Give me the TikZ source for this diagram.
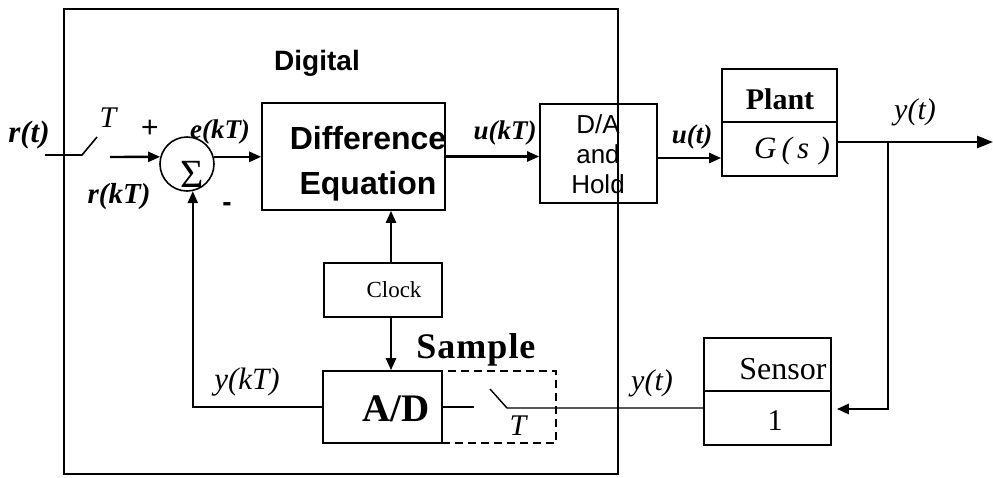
\documentclass[tikz,border=0pt]{standalone}
\usepackage{fontspec}
\setmainfont{Liberation Serif}
\newfontfamily\arial{Liberation Sans}
\usetikzlibrary{arrows.meta,calc}
\begin{document}
\begin{tikzpicture}[x=1pt,y=-1pt,
  blk/.style={draw,line width=1.6pt,inner sep=0pt},
  arr/.style={line width=2.4pt,-{Triangle[length=12pt,width=10pt]}},
  wire/.style={line width=1.6pt},
  lab/.style={inner sep=0pt,font=\fontsize{30}{33}\selectfont\itshape},
  blab/.style={inner sep=0pt,font=\fontsize{27}{30}\selectfont\bfseries\itshape}]
\fill[white] (0,0) rectangle (993,477);
\useasboundingbox (0,0) rectangle (993,477);

% Digital enclosure
\node[draw,line width=1.5pt,inner sep=0pt,minimum width=554pt,minimum height=465pt] (dig) at (341,241.5) {};
\node[inner sep=0pt,font=\arial\bfseries\fontsize{28}{30}\selectfont] (digt) at (317,63) {Digital};

% blocks
\node[blk,circle,minimum size=54pt] (sig) at (187,164) {};
\node[inner sep=0pt,font=\fontsize{40}{42}\selectfont] (sigt) at (192,174) {Σ};
\node[blk,minimum width=183pt,minimum height=107pt] (de) at (353.5,156.5) {};
\node[inner sep=0pt,align=center,font=\arial\bfseries\fontsize{32}{45}\selectfont] (det) at (368,164) {Difference\\Equation};
\node[blk,minimum width=117pt,minimum height=99pt] (da) at (598.5,153.5) {};
\node[inner sep=0pt,align=center,font=\arial\fontsize{26}{30}\selectfont] (dat) at (598,154) {D/A\\and\\Hold};
\node[blk,minimum width=115pt,minimum height=53pt] (pl1) at (779.5,95.5) {};
\node[blk,minimum width=115pt,minimum height=54pt] (pl2) at (779.5,149) {};
\node[inner sep=0pt,font=\fontsize{30}{32}\selectfont\bfseries] (plt) at (780,99) {Plant};
\node[inner sep=0pt,font=\fontsize{31}{33}\selectfont\itshape] (gst) at (792,151) {G\,(\,s\,\,)};
\node[blk,minimum width=118pt,minimum height=54pt] (clk) at (383,290) {};
\node[inner sep=0pt,font=\fontsize{23}{26}\selectfont] (clkt) at (394,290) {Clock};
\node[draw,dashed,dash pattern=on 8pt off 5pt,line width=1.6pt,inner sep=0pt,minimum width=114pt,minimum height=72pt] (smp) at (499,407) {};
\node[blk,fill=white,minimum width=119pt,minimum height=72pt] (ad) at (382.5,407) {};
\node[inner sep=0pt,font=\fontsize{39}{42}\selectfont\bfseries] (adt) at (396,409) {A/D};
\node[inner sep=0pt,font=\fontsize{36}{38}\selectfont\bfseries] (smpt) at (476,350) {S\kern1pt a\kern1pt m\kern1pt p\kern1pt l\kern1pt e};
\node[blk,minimum width=127pt,minimum height=53pt] (sn1) at (767.5,364.5) {};
\node[blk,minimum width=127pt,minimum height=54pt] (sn2) at (767.5,418) {};
\node[inner sep=0pt,font=\fontsize{32}{34}\selectfont] (snt) at (783,369) {Sensor};
\node[inner sep=0pt,font=\fontsize{30}{32}\selectfont] (sn1t) at (775,421) {1};

% input sampler
\coordinate (rin0) at (45,155);
\coordinate (rin1) at (82,155);
\coordinate (rin2) at (97,137);
\coordinate (rin3) at (110,157);
\draw[wire] (rin0) -- (rin1) -- (rin2);
\draw[arr] (rin3) -- (sig.165);
\node[blab,font=\fontsize{31}{33}\selectfont\bfseries\itshape] (rt) at (29,135) {r(t)};
\node[lab] (t1) at (108,118) {T};
\node[inner sep=0pt,font=\arial\fontsize{30}{30}\selectfont] (plus) at (150,129) {+};
\node[inner sep=0pt,font=\arial\bfseries\fontsize{28}{30}\selectfont] (minus) at (227,207) {-};
\node[blab] (ekt) at (220,132) {e(kT)};
\node[blab,font=\fontsize{29}{31}\selectfont\bfseries\itshape] (rkt) at (119,197) {r(kT)};

% forward path
\draw[arr] (sig.15) -- (sig.15 -| de.west);
\draw[arr] (de.east) -- (de.east -| da.west);
\node[blab] (ukt) at (505,133) {u(kT)};
\coordinate (ua) at (657,158);
\draw[arr] (ua) -- (ua -| pl2.west);
\node[blab] (ut) at (692,137) {u(t)};

% output
\coordinate (yo) at (837,142);
\coordinate (yj) at (888,142);
\coordinate (yend) at (993,142);
\draw[wire,line width=2.2pt] (yo) -- (yj);
\draw[line width=2.6pt,-{Triangle[length=16pt,width=12pt]}] (yj) -- (yend);
\node[lab] (yt1) at (915,112) {y(t)};
\coordinate (fb) at (888,409);
\draw[line width=2.6pt,-{Triangle[length=12pt,width=10pt]},shorten >=5pt] (yj) -- (fb) -- (fb -| sn2.east);

% clock connections
\coordinate (ck) at (391,290);
\draw[arr] (ck |- clk.north) -- (ck |- de.south);
\draw[arr] (ck |- clk.south) -- (ck |- ad.north);

% sample switch
\coordinate (s1) at (474,407);
\coordinate (s2) at (490,389);
\coordinate (s3) at (507,408);
\draw[wire,line width=1.4pt] (ad.east) -- (s1);
\draw[wire,line width=1.4pt] (s2) -- (s3) -- (s3 -| sn2.west);
\node[lab] (t2) at (518,426) {T};
\node[lab] (yt2) at (652,383) {y(t)};

% feedback
\coordinate (fbk) at ($(sig.-78)$);
\draw[arr] (ad.west) -- (ad.west -| fbk) -- (fbk);
\node[lab,font=\fontsize{31}{33}\selectfont\itshape] (ykt) at (247,382) {y(kT)};
\end{tikzpicture}
\end{document}
